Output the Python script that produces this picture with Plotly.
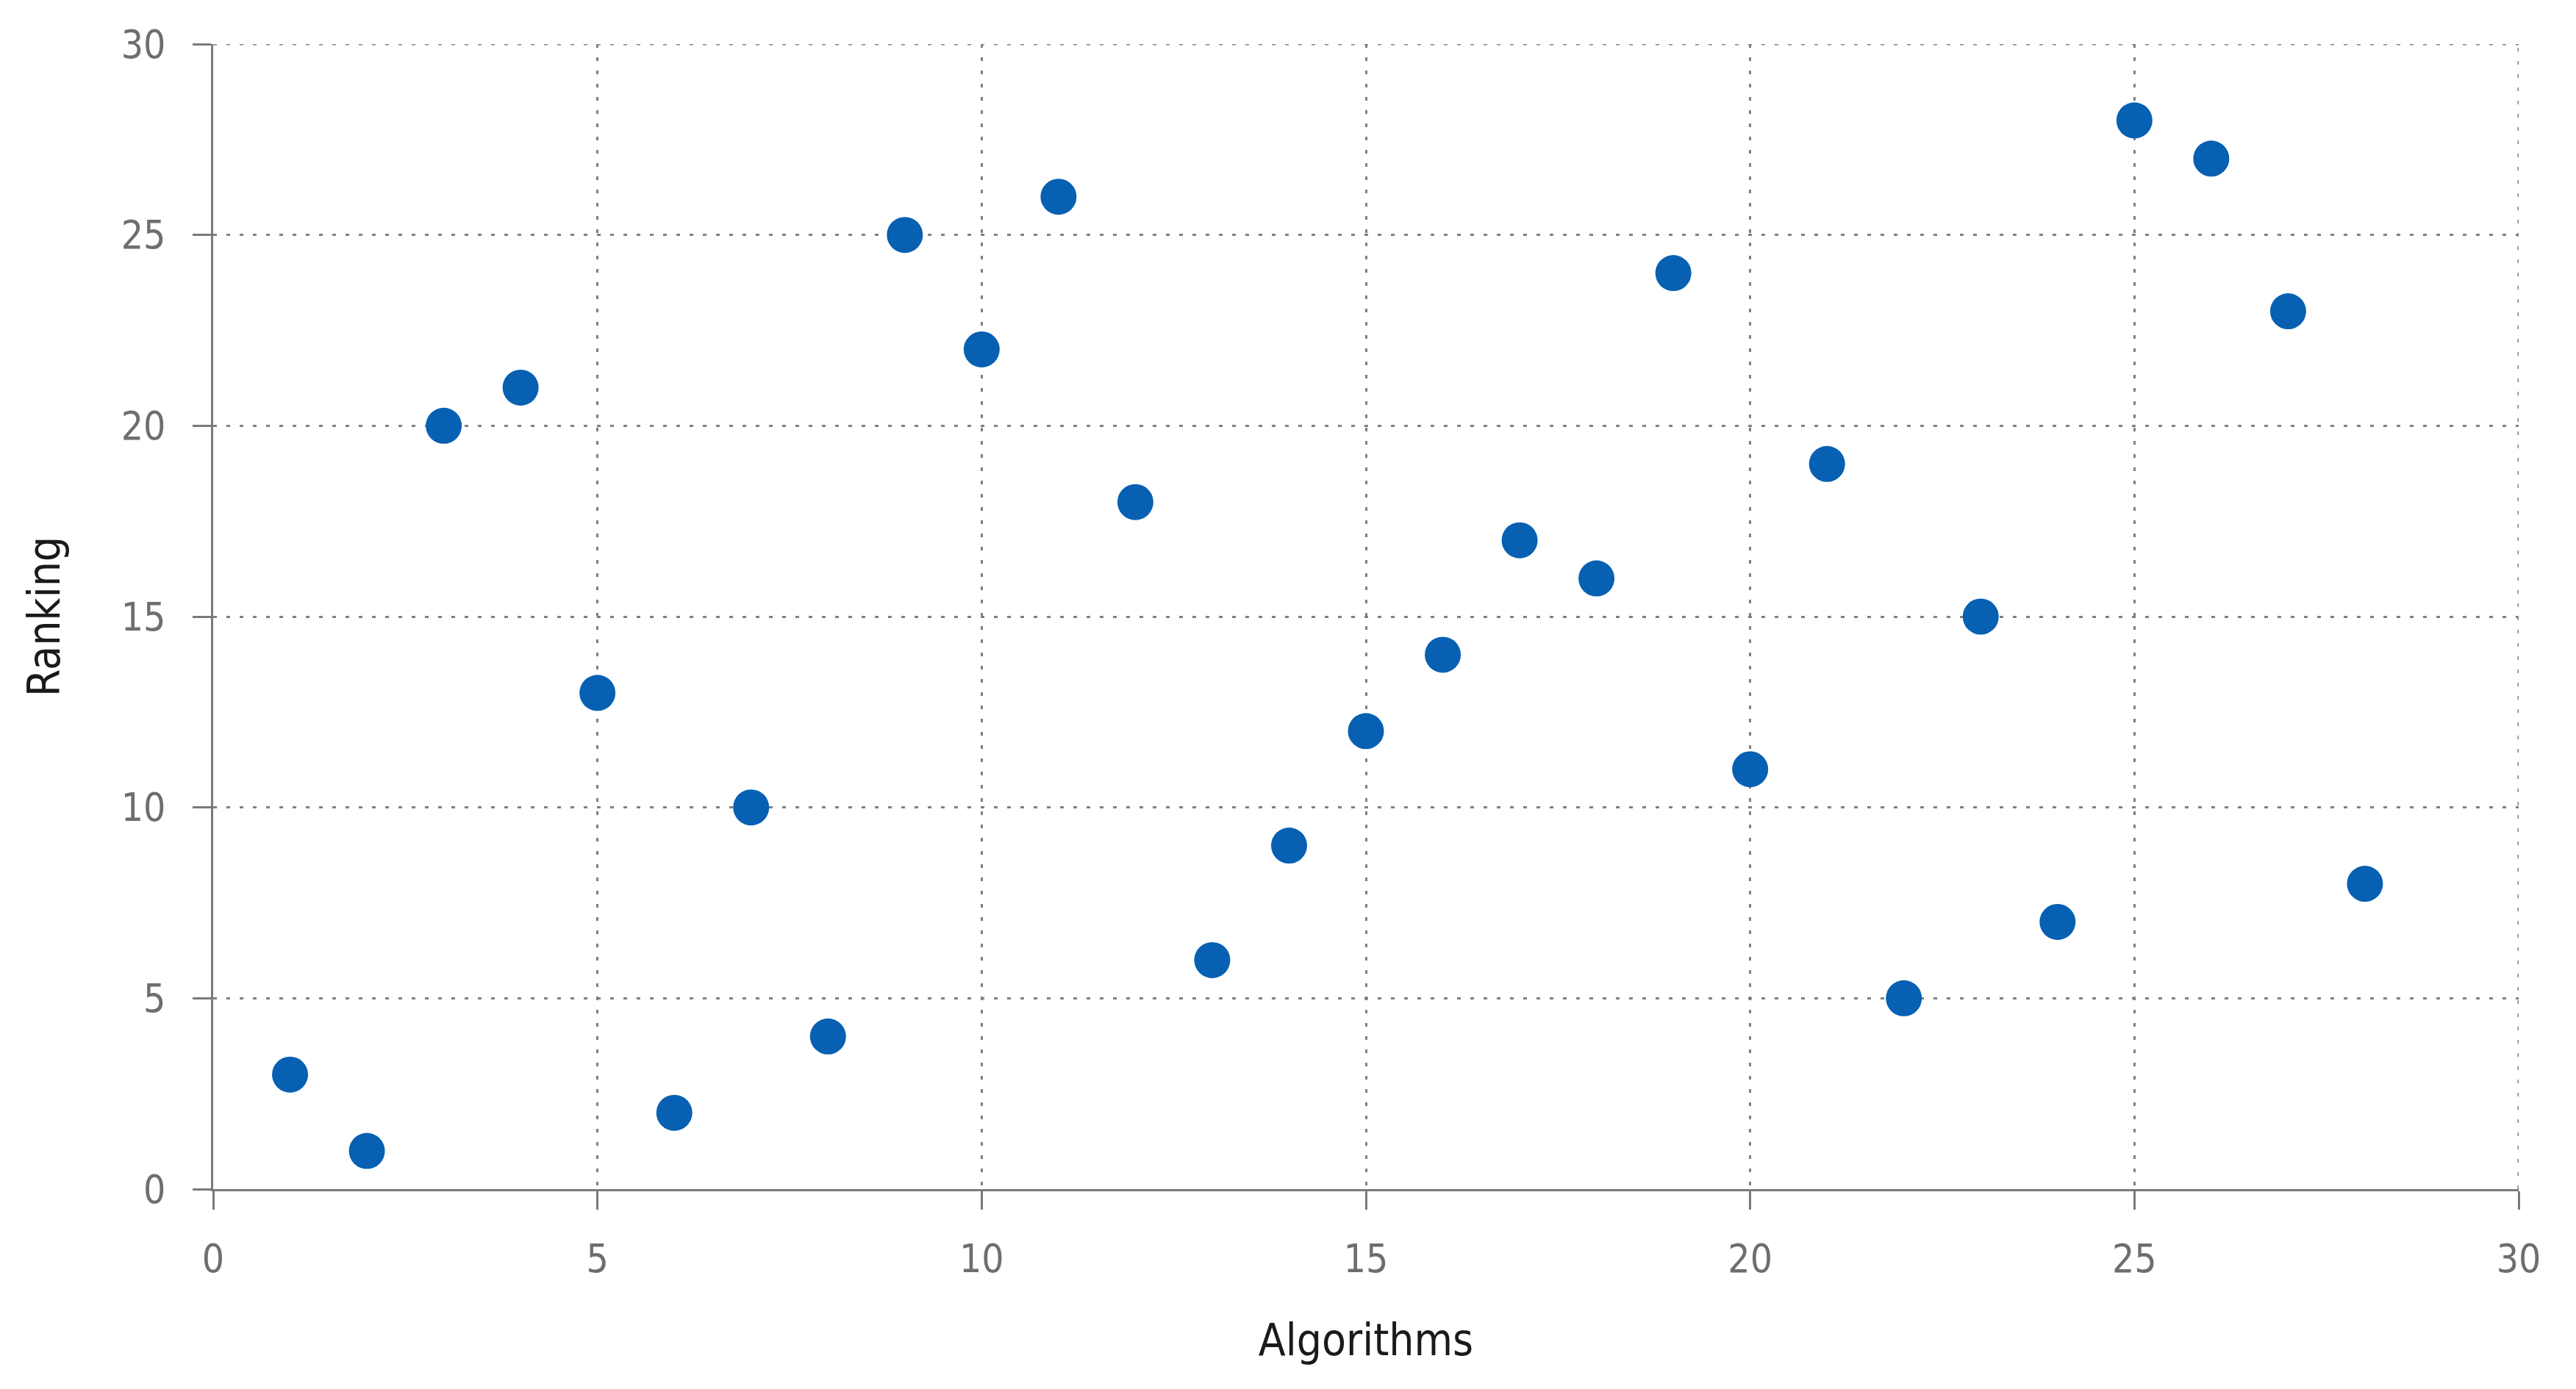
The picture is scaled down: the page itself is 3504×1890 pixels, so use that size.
import plotly.graph_objects as go

algorithms = list(range(1, 29))
ranking = [3, 1, 20, 21, 13, 2, 10, 4, 25, 22, 26, 18, 6, 9, 12, 14, 17, 16, 24, 11, 19, 5, 15, 7, 28, 27, 23, 8]
x_ticks = [0, 5, 10, 15, 20, 25, 30]
y_ticks = [0, 5, 10, 15, 20, 25, 30]
x_range = [0, 30]
y_range = [0, 30]

FONT = "DejaVu Sans Condensed, DejaVu Sans, sans-serif"
GRID = "#808080"
AXIS = "#7a7a7a"
GRID_DASH = "5px,13px"

fig = go.Figure(go.Scatter(
    x=algorithms, y=ranking, mode="markers",
    marker=dict(size=49, color="#0760B2", line=dict(width=0)),
    hoverinfo="x+y", showlegend=False,
))

common = dict(
    showline=True, linecolor=AXIS, linewidth=3,
    showgrid=True, gridcolor=GRID, gridwidth=3, griddash=GRID_DASH,
    zeroline=False, ticks="outside", ticklen=25, tickwidth=3, tickcolor=AXIS,
    tickfont=dict(family=FONT, size=53, color="#6e6e6e"),
    automargin=False, mirror=False, layer="below traces",
)

fig.update_xaxes(
    range=x_range, tickvals=x_ticks, ticktext=[str(v) for v in x_ticks],
    ticklabelstandoff=21,
    title=dict(text="Algorithms", font=dict(family=FONT, size=60, color="#1a1a1a"), standoff=61),
    **common,
)
fig.update_yaxes(
    range=y_range, tickvals=y_ticks, ticktext=[str(v) for v in y_ticks],
    ticklabelstandoff=26,
    title=dict(text="Ranking", font=dict(family=FONT, size=60, color="#1a1a1a"), standoff=64),
    **common,
)

# edge gridlines at the top and right of the plot area (plotly hides them by default)
fig.add_shape(type="line", xref="x", yref="y", x0=x_range[0], x1=x_range[1], y0=y_range[1], y1=y_range[1],
              line=dict(color=GRID, width=3, dash=GRID_DASH), layer="below")
fig.add_shape(type="line", xref="x", yref="y", x0=x_range[1], x1=x_range[1], y0=y_range[0], y1=y_range[1],
              line=dict(color=GRID, width=3, dash=GRID_DASH), layer="below")

fig.update_layout(
    width=3488, height=1874,
    margin=dict(l=282, r=70, t=52, b=264),
    paper_bgcolor="white", plot_bgcolor="white",
)

fig.write_html("out.html")
